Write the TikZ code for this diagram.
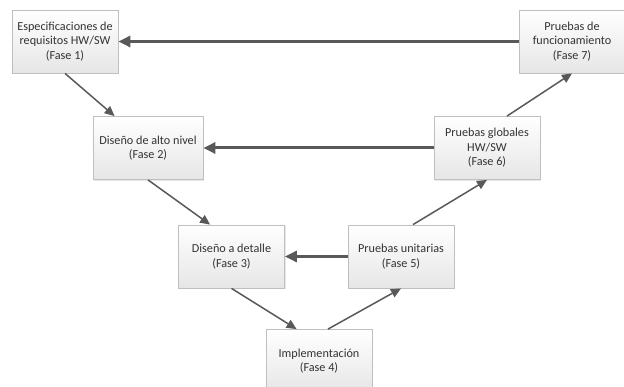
\documentclass[tikz,border=0pt]{standalone}
\usepackage{fontspec}
\setmainfont{Carlito}
\usetikzlibrary{arrows.meta,calc,shadows}
\definecolor{linegray}{HTML}{595959}
\definecolor{boxborder}{HTML}{BFBFBF}
\definecolor{boxbottom}{HTML}{E6E6E6}
\begin{document}
\begin{tikzpicture}[x=1pt,y=-1pt,
  phase/.style={draw=boxborder, line width=0.8pt, top color=white, bottom color=boxbottom,
    minimum width=106pt, minimum height=63pt, inner sep=2pt, align=center,
    text=black!80, font=\fontsize{12.2}{14.5}\selectfont,
    drop shadow={shadow xshift=1pt, shadow yshift=-1.2pt, opacity=0.18}},
  feedback/.style={draw=linegray, line width=3pt, -{Triangle[length=12pt,width=11pt]}},
  flow/.style={draw=linegray, line width=1.5pt, -{Triangle[length=10pt,width=9pt]}}]
\useasboundingbox (0,0) rectangle (624,387);
\begin{scope}
\clip (0,0) rectangle (624,387);
\node[phase] (b1) at (65,41.5) {Especificaciones de\\requisitos HW/SW\\(Fase 1)};
\node[phase, minimum width=110pt] (b2) at (148,148) {Diseño de alto nivel\\(Fase 2)};
\node[phase] (b3) at (231.5,256.5) {Diseño a detalle\\(Fase 3)};
\node[phase] (b4) at (319,361) {Implementación\\(Fase 4)};
\node[phase] (b5) at (401,256.5) {Pruebas unitarias\\(Fase 5)};
\node[phase] (b6) at (487,148) {Pruebas globales\\HW/SW\\(Fase 6)};
\node[phase] (b7) at (572,41.5) {Pruebas de\\funcionamiento\\(Fase 7)};

% descending branch
\draw[flow] (b1.south) -- ($(b2.north west)+(22,0)$);
\draw[flow] (b2.south) -- ($(b3.north west)+(32,0)$);
\draw[flow] (b3.south) -- ($(b4.north west)+(31,0)$);
% ascending branch
\draw[flow] ($(b4.north)+(9,0)$) -- (b5.south);
\draw[flow] ($(b5.north)+(12,0)$) -- (b6.south);
\draw[flow] ($(b6.north)+(20,0)$) -- (b7.south);
% verification feedback
\draw[feedback] (b7.west) -- (b1.east);
\draw[feedback] (b6.west) -- (b2.east);
\draw[feedback] (b5.west) -- (b3.east);
\end{scope}
\end{tikzpicture}
\end{document}
